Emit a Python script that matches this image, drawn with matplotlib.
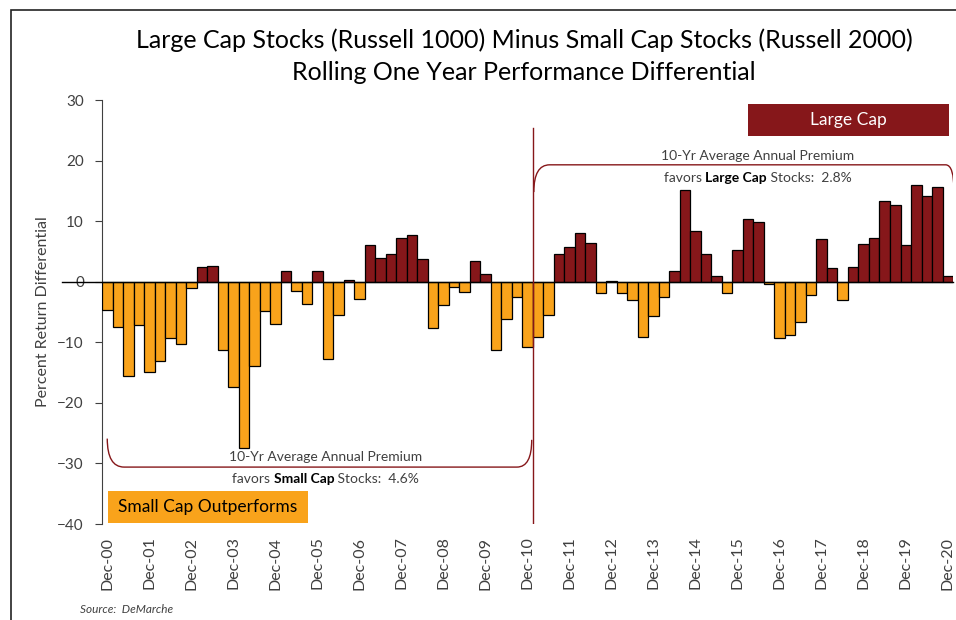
import numpy as np
import matplotlib
matplotlib.use("Agg")
import matplotlib.pyplot as plt
from matplotlib.path import Path
from matplotlib.patches import PathPatch, Rectangle
from matplotlib.offsetbox import TextArea, HPacker, AnnotationBbox

plt.rcParams['font.family'] = ['Lato', 'DejaVu Sans']

# quarterly rolling one-year differential, Dec-00 .. Dec-20
diff = [
    -4.7, -7.4, -15.5, -7.2,
    -14.9, -13.1, -9.3, -10.2,
    -1.1, 2.4, 2.6, -11.3,
    -17.3, -27.4, -13.9, -4.8,
    -6.9, 1.8, -1.5, -3.7,
    1.7, -12.7, -5.5, 0.3,
    -2.9, 6.0, 3.9, 4.6,
    7.3, 7.7, 3.8, -7.6,
    -3.8, -0.8, -1.7, 3.4,
    1.2, -11.2, -6.2, -2.6,
    -10.7, -9.1, -5.5, 4.5,
    5.7, 8.0, 6.4, -1.8,
    0.1, -1.8, -3.0, -9.1,
    -5.7, -2.5, 1.7, 15.1,
    8.4, 4.6, 0.9, -1.8,
    5.3, 10.3, 9.8, -0.4,
    -9.3, -8.8, -6.6, -2.2,
    7.0, 2.2, -3.0, 2.5,
    6.3, 7.3, 13.3, 12.7,
    6.0, 16.0, 14.1, 15.6,
    1.0,
]
tick_labels = ['Dec-%02d' % y for y in range(0, 21)]
yticks = [-40, -30, -20, -10, 0, 10, 20, 30]

RED = '#86171A'
ORANGE = '#F9A31B'
GREY = '#404040'

fig = plt.figure(figsize=(9.56, 6.2), dpi=100)
ax = fig.add_axes([0.1067, 0.1548, 0.8902, 0.6839])

x = np.arange(len(diff))
vals = np.array(diff)
colors = [RED if v >= 0 else ORANGE for v in vals]
ax.bar(x, vals, width=1.0, color=colors, edgecolor='black', linewidth=0.9, zorder=3)

ax.set_xlim(-0.5, len(diff) - 0.5)
ax.set_ylim(-40, 30)
ax.set_yticks(yticks)
ax.set_xticks(np.arange(0, len(diff), 4))
ax.set_xticklabels(tick_labels, rotation=90, fontsize=11.5, color=GREY)
ax.tick_params(axis='x', length=0, pad=9)
ax.tick_params(axis='y', length=5, width=0.8, labelsize=11, labelcolor=GREY, pad=8, color=GREY)
for s in ['top', 'right', 'bottom']:
    ax.spines[s].set_visible(False)
ax.spines['left'].set_color(GREY)
ax.set_ylabel('Percent Return Differential', fontsize=11.5, color=GREY, labelpad=5)

# zero line (runs out through the 0 label)
ax.plot([-0.047, 1], [0, 0], transform=ax.get_yaxis_transform(), color='black',
        lw=1.0, clip_on=False, zorder=4)

# divider at Dec-10
ax.plot([40.5, 40.5], [-40, 25.4], color=RED, lw=1.0, zorder=5)

# brackets
def bracket(pts):
    codes = [Path.MOVETO, Path.CURVE3, Path.CURVE3, Path.LINETO, Path.CURVE3, Path.CURVE3]
    ax.add_patch(PathPatch(Path(pts, codes), fill=False, edgecolor=RED, lw=1.0, zorder=5))

bracket([(0.0, -25.9), (0.0, -30.6), (1.6, -30.6), (39.0, -30.6), (40.4, -30.6), (40.4, -26.1)])
bracket([(40.6, 14.8), (40.6, 19.3), (42.1, 19.3), (79.8, 19.3), (80.6, 19.3), (80.6, 14.8)])

def premium(xc, y1, y2, who, pct):
    ax.text(xc, y1, '10-Yr Average Annual Premium', ha='center', va='center',
            fontsize=10, color=GREY, zorder=6)
    parts = [TextArea('favors ', textprops=dict(fontsize=10, color=GREY)),
             TextArea(who, textprops=dict(fontsize=10, color='black', fontweight='bold')),
             TextArea(' Stocks:  ' + pct, textprops=dict(fontsize=10, color=GREY))]
    box = HPacker(children=parts, align='baseline', pad=0, sep=0)
    ax.add_artist(AnnotationBbox(box, (xc, y2), frameon=False, box_alignment=(0.5, 0.5),
                                 zorder=6))

premium(20.8, -29.0, -32.6, 'Small Cap', '4.6%')
premium(61.9, 20.7, 17.2, 'Large Cap', '2.8%')

# legend-like boxes
ax.add_patch(Rectangle((0.05, -39.8), 19.1, 5.3, facecolor=ORANGE, edgecolor='none', zorder=6))
ax.text(9.6, -37.15, 'Small Cap Outperforms', ha='center', va='center', fontsize=12.5,
        color='black', zorder=7)
ax.add_patch(Rectangle((61.0, 24.0), 19.1, 5.3, facecolor=RED, edgecolor='none', zorder=6))
ax.text(70.55, 26.65, 'Large Cap', ha='center', va='center', fontsize=12.5,
        color='white', zorder=7)

# titles
fig.text(0.548, 0.935, 'Large Cap Stocks (Russell 1000) Minus Small Cap Stocks (Russell 2000)',
         ha='center', va='center', fontsize=18, color='black')
fig.text(0.548, 0.883, 'Rolling One Year Performance Differential',
         ha='center', va='center', fontsize=18, color='black')

fig.text(0.084, 0.012, 'Source:  DeMarche', fontsize=8.5, style='italic', color=GREY)

# outer frame
fig.add_artist(Rectangle((0.0115, -0.05), 1.0, 1.034, transform=fig.transFigure, fill=False,
                         edgecolor='#222222', lw=1.2))

fig.savefig('out.png', dpi=100)
